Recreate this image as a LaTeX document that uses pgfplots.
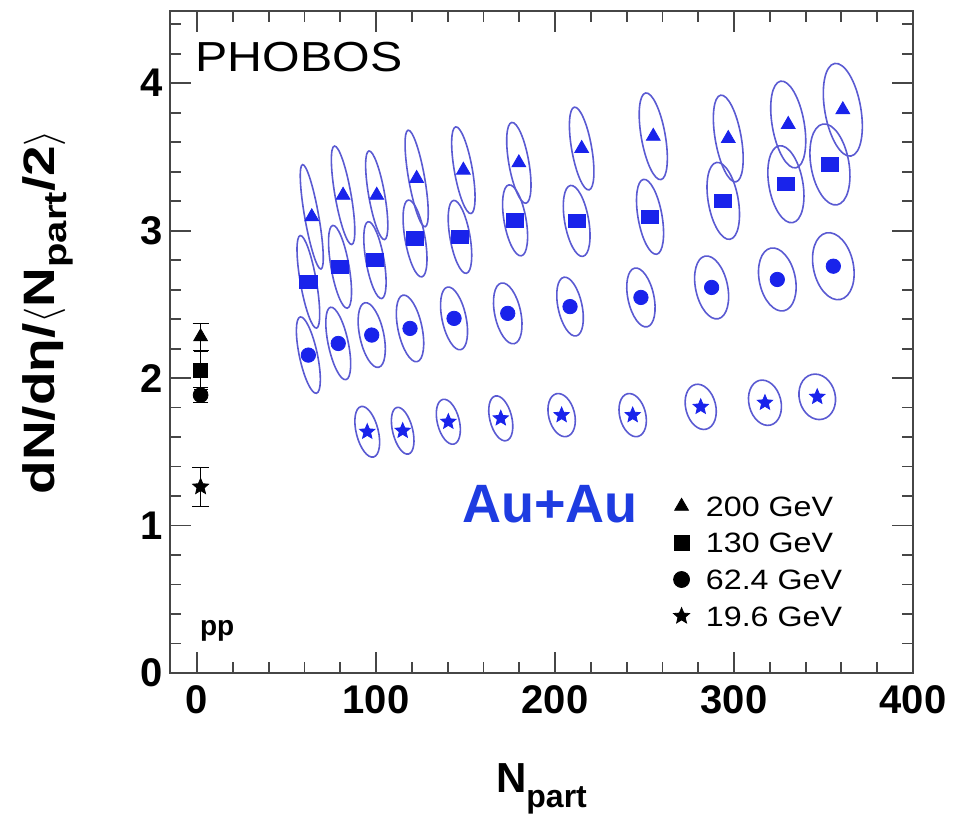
\documentclass[border=0pt]{standalone}
\usepackage{pgfplots}
\usepackage{pgfplotstable}
\pgfplotsset{compat=1.18}
\usepackage{fontspec}
\setmainfont{Liberation Sans}
\newfontfamily\widefont{Liberation Sans}[FakeStretch=1.15]
\newfontfamily\ylabfont{Liberation Sans}[FakeStretch=1.25]
\definecolor{markblue}{RGB}{25,35,235}
\definecolor{ellblue}{RGB}{90,90,210}
\definecolor{aublue}{RGB}{30,60,225}
\definecolor{framegray}{RGB}{70,70,70}

\pgfdeclareplotmark{fstar}{%
  \pgfpathmoveto{\pgfpointpolar{90}{\pgfplotmarksize}}%
  \pgfpathlineto{\pgfpointpolar{126}{0.45\pgfplotmarksize}}%
  \pgfpathlineto{\pgfpointpolar{162}{\pgfplotmarksize}}%
  \pgfpathlineto{\pgfpointpolar{198}{0.45\pgfplotmarksize}}%
  \pgfpathlineto{\pgfpointpolar{234}{\pgfplotmarksize}}%
  \pgfpathlineto{\pgfpointpolar{270}{0.45\pgfplotmarksize}}%
  \pgfpathlineto{\pgfpointpolar{306}{\pgfplotmarksize}}%
  \pgfpathlineto{\pgfpointpolar{342}{0.45\pgfplotmarksize}}%
  \pgfpathlineto{\pgfpointpolar{18}{\pgfplotmarksize}}%
  \pgfpathlineto{\pgfpointpolar{54}{0.45\pgfplotmarksize}}%
  \pgfpathclose\pgfusepathqfillstroke}
\pgfdeclareplotmark{rect}{%
  \pgfpathrectangle{\pgfpoint{-1.3\pgfplotmarksize}{-\pgfplotmarksize}}{\pgfpoint{2.6\pgfplotmarksize}{2\pgfplotmarksize}}%
  \pgfusepathqfillstroke}

% x = N_part, y = dN/deta/(<N_part>/2), a,b = contour half-axes (pt)
\pgfplotstableread{
x y a b
64.1 3.094 26.5 3.5
81.6 3.24 25 4
100.4 3.24 22.5 4
122.7 3.354 24.5 4
148.8 3.41 22 4.5
179.8 3.46 20.5 5
214.9 3.557 21 5
254.9 3.64 22 6
296.8 3.625 22 6.5
330.3 3.72 22 8
360.8 3.82 23.5 9
}\tritab
\pgfplotstableread{
x y a b
62.2 2.653 23.5 4
79.9 2.755 21 4.5
99.4 2.80 19.5 4.5
121.8 2.947 19.5 5
146.9 2.958 18.5 5
177.7 3.07 18 5.5
212.1 3.066 18 6
253.1 3.094 19 6
294 3.202 19.5 7.5
329 3.315 19.5 8.5
353.6 3.449 20.5 9.5
}\sqtab
\pgfplotstableread{
x y a b
62.2 2.156 19.5 4.5
78.9 2.235 18.5 5
97.6 2.292 16.5 6
119 2.337 17 6
143.6 2.405 16 6
173.6 2.439 15.5 6.5
208.4 2.485 15 6
248 2.547 15 6.5
287.5 2.615 16 8
324.2 2.669 16 9
355.5 2.759 17 10
}\circtab
\pgfplotstableread{
x y a b
95.1 1.636 13 5.5
114.9 1.643 12 5
140.4 1.704 11.5 5.5
169.7 1.727 11.5 5.5
203.7 1.749 11 6.5
243.4 1.749 11 6.5
281.4 1.805 11.5 7.5
317.3 1.833 11.5 8
346.5 1.873 11.5 9
}\startab

\pgfplotsset{
  ellipses/.style={
    forget plot, only marks, scatter, markblue,
    mark options={fill=markblue, draw=markblue},
    visualization depends on={\thisrow{a}\as\ea},
    visualization depends on={\thisrow{b}\as\eb},
    scatter/@pre marker code/.code={%
      \begin{pgfscope}%
      \pgfmathsetmacro\tiltb{#1+90}%
      \pgfpathellipse{\pgfpointorigin}{\pgfpointpolar{#1}{\eb pt}}{\pgfpointpolar{\tiltb}{\ea pt}}%
      \pgfsetstrokecolor{ellblue}\pgfsetlinewidth{0.8pt}%
      \pgfusepath{stroke}%
      \end{pgfscope}},
    scatter/@post marker code/.code={},
  }
}

\begin{document}
\begin{tikzpicture}
\path[use as bounding box] (0,0) rectangle (477.5pt,408.5pt);
\begin{axis}[
  at={(85pt,72pt)}, anchor=south west,
  scale only axis, width=371.5pt, height=331pt,
  xmin=-15.1, xmax=400, ymin=0, ymax=4.49,
  xtick={0,100,200,300,400}, ytick={0,1,2,3,4},
  minor xtick={20,40,60,80,120,140,160,180,220,240,260,280,320,340,360,380},
  minor ytick={0.2,0.4,0.6,0.8,1.2,1.4,1.6,1.8,2.2,2.4,2.6,2.8,3.2,3.4,3.6,3.8,4.2,4.4},
  tick align=inside, tick pos=both,
  major tick length=10.5pt, minor tick length=5.5pt,
  axis line style={framegray, line width=0.9pt},
  tick style={framegray, line width=0.9pt},
  /pgf/number format/assume math mode=true,
  ticklabel style={font=\bfseries\fontsize{20}{20}\selectfont},
  xticklabel style={inner sep=0pt, yshift=-6pt},
  yticklabel style={inner sep=0pt, xshift=-3.5pt},
  xlabel={\fontsize{21}{21}\selectfont N\raisebox{-7.5pt}{\fontsize{16}{16}\selectfont part}},
  xlabel style={at={(rel axis cs:0.5,-0.181)}, anchor=base, font=\bfseries, inner sep=0pt},
  ylabel={\ylabfont\bfseries\fontsize{22}{22}\selectfont dN/dη/$\langle$N\raisebox{-6pt}{\fontsize{16}{16}\selectfont part}/2$\rangle$},
  ylabel style={at={(rel axis cs:-0.164,0.545)}, anchor=center, inner sep=0pt},
  legend style={draw=none, fill=none, at={(rel axis cs:0.674,0.272)}, anchor=north west,
    font=\widefont\fontsize{14}{14}\selectfont, inner sep=0pt,
    nodes={inner sep=1.5pt, text height=10pt, text depth=0pt}, row sep=5.3pt},
  legend cell align=left,
  legend image code/.code={\path (0pt,-3pt) (15.5pt,3pt); \draw[#1] plot coordinates {(5pt,0pt)};},
]
% Au+Au with contours
\addplot[ellipses=10, mark=triangle*, mark size=4pt] table[x=x,y=y] {\tritab};
\addplot[ellipses=10, mark=rect, mark size=3.3pt] table[x=x,y=y] {\sqtab};
\addplot[ellipses=12, mark=*, mark size=3.6pt] table[x=x,y=y] {\circtab};
\addplot[ellipses=14, mark=fstar, mark size=4pt] table[x=x,y=y] {\startab};

% pp reference points
\addplot[forget plot, only marks, black, mark=triangle*, mark size=4pt,
  error bars/.cd, y dir=both, y explicit, error bar style={black, line width=0.7pt}]
  coordinates {(2,2.28) +- (0,0.09)};
\addplot[forget plot, only marks, black, mark=square*, mark size=3.5pt,
  error bars/.cd, y dir=both, y explicit, error bar style={black, line width=0.7pt}]
  coordinates {(2,2.05) +- (0,0.13)};
\addplot[forget plot, only marks, black, mark=*, mark size=3.7pt,
  error bars/.cd, y dir=both, y explicit, error bar style={black, line width=0.7pt}]
  coordinates {(2,1.885) +- (0,0.05)};
\addplot[forget plot, only marks, black, mark=fstar, mark size=4.2pt,
  error bars/.cd, y dir=both, y explicit, error bar style={black, line width=0.7pt}]
  coordinates {(2,1.263) +- (0,0.13)};

\addlegendimage{only marks, mark=triangle*, black, mark size=4pt}
\addlegendentry{200 GeV}
\addlegendimage{only marks, mark=square*, black, mark size=3.7pt}
\addlegendentry{130 GeV}
\addlegendimage{only marks, mark=*, black, mark size=4pt}
\addlegendentry{62.4 GeV}
\addlegendimage{only marks, mark=fstar, black, mark size=4.2pt}
\addlegendentry{19.6 GeV}

\node[anchor=base west, inner sep=0pt, font=\widefont\fontsize{21}{21}\selectfont] at (rel axis cs:0.034,0.908) {PHOBOS};
\node[anchor=base west, inner sep=0pt, font=\bfseries\fontsize{27}{27}\selectfont, text=aublue] at (rel axis cs:0.393,0.228) {Au+Au};
\node[anchor=base west, inner sep=0pt, font=\bfseries\fontsize{14}{14}\selectfont] at (rel axis cs:0.040,0.056) {pp};
\end{axis}
\end{tikzpicture}
\end{document}
